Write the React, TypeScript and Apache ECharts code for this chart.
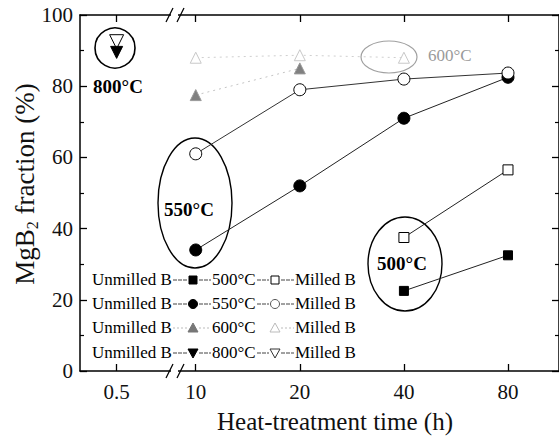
import React, { useEffect, useRef } from "react";
import * as echarts from "echarts";

// Heat-treatment times (h) and MgB2 fraction (%) per temperature / boron type
const times = ["0.5", "10", "20", "40", "80"];
const unmilled500 = [null, null, null, 22.5, 32.5];
const milled500 = [null, null, null, 37.5, 56.5];
const unmilled550 = [null, 34, 52, 71, 82.5];
const milled550 = [null, 61, 79, 82, 83.7];
const unmilled600 = [null, 77.5, 85, null, null];
const milled600 = [null, 88, 88.7, 88, null];
const unmilled800 = [89.5, null, null, null, null];
const milled800 = [92.5, null, null, null, null];
const yTicks = [0, 20, 40, 60, 80, 100];

const FONT = "Liberation Serif";

// Broken time axis: 0.5 h sits before the break, 10–80 h double per step
const BEFORE_BREAK = -0.76;
function timePos(t: string): number {
  const v = parseFloat(t);
  return v < 10 ? BEFORE_BREAK : Math.log2(v / 10);
}
const tickPos = times.map(timePos);

function toData(vals: (number | null)[]) {
  const out: number[][] = [];
  times.forEach((t, i) => {
    const v = vals[i];
    if (v != null) out.push([timePos(t), v]);
  });
  return out;
}

type Sym = "square" | "circle" | "up" | "down";

function symbolGraphic(kind: Sym, cx: number, cy: number, fill: string, stroke: string) {
  const style = { fill, stroke, lineWidth: 1 };
  if (kind === "square") {
    return { type: "rect", shape: { x: cx - 4, y: cy - 4, width: 8, height: 8 }, style };
  }
  if (kind === "circle") {
    return { type: "circle", shape: { cx, cy, r: 4.5 }, style };
  }
  if (kind === "up") {
    return {
      type: "polygon",
      shape: { points: [[cx, cy - 5], [cx + 5, cy + 4], [cx - 5, cy + 4]] },
      style,
    };
  }
  return {
    type: "polygon",
    shape: { points: [[cx - 5, cy - 4], [cx + 5, cy - 4], [cx, cy + 5]] },
    style,
  };
}

const legendRows = [
  { temp: "500°C", sym: "square" as Sym, dark: "#000", light: "#000", join: true },
  { temp: "550°C", sym: "circle" as Sym, dark: "#000", light: "#555", join: true },
  { temp: "600°C", sym: "up" as Sym, dark: "#777", light: "#bbb", join: false },
  { temp: "800°C", sym: "down" as Sym, dark: "#000", light: "#333", join: true },
];

function buildLegend() {
  const els: any[] = [];
  const rowY = [280, 304, 328, 353];
  legendRows.forEach((r, i) => {
    const y = rowY[i];
    const lineStyle = { stroke: i === 2 ? "#bbb" : "#444", lineWidth: 1, lineDash: i === 2 ? [2, 2] : [4, 1] };
    els.push({
      type: "text",
      left: 92,
      top: y - 9,
      style: { text: "Unmilled B", font: `17px ${FONT}`, fill: "#000" },
    });
    els.push({ type: "line", shape: { x1: 173, y1: y, x2: 187, y2: y }, style: lineStyle });
    els.push(symbolGraphic(r.sym, 193, y, r.dark, r.dark));
    els.push({ type: "line", shape: { x1: 199, y1: y, x2: 211, y2: y }, style: lineStyle });
    els.push({
      type: "text",
      left: 212,
      top: y - 9,
      style: { text: r.temp, font: `17px ${FONT}`, fill: "#000" },
    });
    if (r.join) {
      els.push({ type: "line", shape: { x1: 257, y1: y, x2: 269, y2: y }, style: lineStyle });
    }
    els.push(symbolGraphic(r.sym, 275, y, "#fff", r.light));
    els.push({ type: "line", shape: { x1: 281, y1: y, x2: 294, y2: y }, style: lineStyle });
    els.push({
      type: "text",
      left: 295,
      top: y - 9,
      style: { text: "Milled B", font: `17px ${FONT}`, fill: "#000" },
    });
  });
  return els;
}

function breakMarks(y: number) {
  return [
    { type: "rect", shape: { x: 171, y: y - 2, width: 7, height: 4 }, style: { fill: "#fff" }, z: 100 },
    { type: "line", shape: { x1: 166, y1: y + 7, x2: 173, y2: y - 7 }, style: { stroke: "#000", lineWidth: 1.3 }, z: 101 },
    { type: "line", shape: { x1: 177, y1: y + 7, x2: 184, y2: y - 7 }, style: { stroke: "#000", lineWidth: 1.3 }, z: 101 },
  ];
}

function lineSeries(
  name: string,
  vals: (number | null)[],
  symbol: string,
  size: number,
  fill: string,
  border: string,
  lineColor: string,
  opts: any = {}
) {
  return {
    name,
    type: "line",
    data: toData(vals),
    symbol,
    symbolSize: size,
    symbolRotate: opts.rotate || 0,
    showAllSymbol: true,
    itemStyle: { color: fill, borderColor: border, borderWidth: 1, opacity: 1 },
    lineStyle: { color: lineColor, width: 1, type: opts.dash || "solid" },
    z: opts.z || 2,
  };
}

export default function App() {
  const ref = useRef<HTMLDivElement>(null);

  useEffect(() => {
    if (!ref.current) return;
    const chart = echarts.init(ref.current, null, { renderer: "svg" });

    const xCommon = {
      type: "value",
      min: -1.112,
      max: 3.49,
      splitLine: { show: false },
      axisLine: { show: true, onZero: false, lineStyle: { color: "#000", width: 1.5 } },
      axisTick: { show: true, inside: true, length: 7, customValues: tickPos, lineStyle: { color: "#000", width: 1.3 } },
    };
    const yCommon = {
      type: "value",
      min: 0,
      max: 100,
      interval: 20,
      splitLine: { show: false },
      axisLine: { show: true, onZero: false, lineStyle: { color: "#000", width: 1.5 } },
      axisTick: { show: true, inside: true, length: 7, lineStyle: { color: "#000", width: 1.3 } },
      minorTick: { show: true, splitNumber: 2, length: 4, lineStyle: { color: "#000", width: 1.2 } },
    };

    chart.setOption({
      animation: false,
      backgroundColor: "#fff",
      grid: { left: 80, right: -1, top: 15, bottom: 70, containLabel: false },
      xAxis: [
        {
          ...xCommon,
          position: "bottom",
          axisLabel: {
            show: true,
            customValues: tickPos,
            margin: 10,
            fontFamily: FONT,
            fontSize: 21,
            color: "#111",
            formatter: (v: number) => {
              const idx = tickPos.findIndex((p) => Math.abs(p - v) < 1e-6);
              return idx >= 0 ? times[idx] : "";
            },
          },
        },
        { ...xCommon, position: "top", axisLabel: { show: false } },
      ],
      yAxis: [
        {
          ...yCommon,
          position: "left",
          axisLabel: {
            show: true,
            margin: 7,
            fontFamily: FONT,
            fontSize: 21,
            color: "#111",
            formatter: (v: number) => (yTicks.includes(v) ? String(v) : ""),
          },
        },
        { ...yCommon, position: "right", axisLabel: { show: false } },
      ],
      series: [
        lineSeries("Unmilled B 500°C", unmilled500, "rect", 9, "#000", "#000", "#222"),
        lineSeries("Milled B 500°C", milled500, "rect", 10, "#fff", "#000", "#222", { z: 3 }),
        lineSeries("Unmilled B 550°C", unmilled550, "circle", 12, "#000", "#000", "#222"),
        lineSeries("Milled B 550°C", milled550, "circle", 12, "#fff", "#000", "#333", { z: 3 }),
        lineSeries("Unmilled B 600°C", unmilled600, "triangle", 11, "#808080", "#999", "#c4c4c4", { dash: [2, 4] }),
        lineSeries("Milled B 600°C", milled600, "triangle", 11, "#fff", "#c8c8c8", "#cfcfcf", { dash: [2, 4] }),
        lineSeries("Milled B 800°C", milled800, "triangle", 14, "#fff", "#000", "#000", { rotate: 180 }),
        lineSeries("Unmilled B 800°C", unmilled800, "triangle", 12, "#000", "#000", "#000", { rotate: 180, z: 3 }),
      ],
      graphic: [
        ...breakMarks(371),
        ...breakMarks(15),
        // annotations
        { type: "circle", shape: { cx: 115, cy: 48, r: 20 }, style: { fill: "none", stroke: "#000", lineWidth: 1.6 } },
        {
          type: "text",
          x: 118,
          y: 86,
          style: { text: "800°C", font: `bold 19px ${FONT}`, fill: "#000", align: "center", verticalAlign: "middle" },
        },
        { type: "ellipse", shape: { cx: 195, cy: 203, rx: 37, ry: 65 }, style: { fill: "none", stroke: "#000", lineWidth: 1.4 } },
        {
          type: "text",
          x: 189,
          y: 209,
          style: { text: "550°C", font: `bold 19px ${FONT}`, fill: "#000", align: "center", verticalAlign: "middle" },
        },
        { type: "ellipse", shape: { cx: 405, cy: 264, rx: 37, ry: 47 }, style: { fill: "none", stroke: "#000", lineWidth: 1.4 } },
        {
          type: "text",
          x: 402,
          y: 263,
          style: { text: "500°C", font: `bold 19px ${FONT}`, fill: "#000", align: "center", verticalAlign: "middle" },
        },
        { type: "ellipse", shape: { cx: 389, cy: 57, rx: 28, ry: 16 }, style: { fill: "none", stroke: "#a0a0a0", lineWidth: 1.2 } },
        {
          type: "text",
          x: 428,
          y: 55,
          style: { text: "600°C", font: `17px ${FONT}`, fill: "#9a9a9a", verticalAlign: "middle" },
        },
        ...buildLegend(),
        // axis titles
        {
          type: "text",
          x: 335,
          y: 421,
          style: {
            text: "Heat-treatment time (h)",
            font: `25px ${FONT}`,
            fill: "#111",
            align: "center",
            verticalAlign: "middle",
          },
        },
        {
          type: "text",
          x: 25,
          y: 184,
          rotation: Math.PI / 2,
          style: {
            text: "MgB{sub|2} fraction (%)",
            font: `27px ${FONT}`,
            fill: "#111",
            align: "center",
            verticalAlign: "middle",
            rich: {
              sub: { fontSize: 16, fontFamily: FONT, verticalAlign: "bottom", padding: [14, 0, 0, 0], fill: "#111" },
            },
          },
        },
      ],
    });

    return () => chart.dispose();
  }, []);

  return <div ref={ref} style={{ width: 559, height: 441, position: "absolute", left: 0, top: 0 }} />;
}
